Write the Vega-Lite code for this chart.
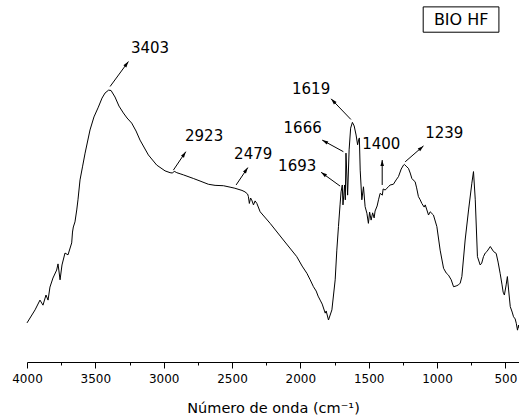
{
  "$schema": "https://vega.github.io/schema/vega-lite/v6.json",
  "width": 492,
  "height": 362,
  "autosize": {"type": "none"},
  "padding": {"left": 27, "top": 0, "right": 0, "bottom": 57},
  "background": "white",
  "config": {
    "view": {"stroke": null},
    "font": "DejaVu Sans",
    "text": {"font": "DejaVu Sans"}
  },
  "datasets": {
    "espectro": [
      {"wn": 4000, "v": 10.8}, {"wn": 3941, "v": 14.4}, {"wn": 3905, "v": 17.1},
      {"wn": 3883, "v": 15.7}, {"wn": 3861, "v": 18.5}, {"wn": 3846, "v": 17.1},
      {"wn": 3832, "v": 20.7}, {"wn": 3810, "v": 23.2}, {"wn": 3783, "v": 25.4},
      {"wn": 3773, "v": 27.1}, {"wn": 3758, "v": 22.7}, {"wn": 3744, "v": 26.8},
      {"wn": 3722, "v": 30.1}, {"wn": 3700, "v": 29.6}, {"wn": 3673, "v": 32.9},
      {"wn": 3667, "v": 35.9}, {"wn": 3661, "v": 37.3}, {"wn": 3649, "v": 38.7},
      {"wn": 3636, "v": 42.0}, {"wn": 3627, "v": 44.8}, {"wn": 3612, "v": 50.3},
      {"wn": 3594, "v": 53.9}, {"wn": 3575, "v": 57.7}, {"wn": 3539, "v": 64.1},
      {"wn": 3510, "v": 67.7}, {"wn": 3478, "v": 70.4}, {"wn": 3451, "v": 72.9},
      {"wn": 3429, "v": 74.3}, {"wn": 3403, "v": 75.1}, {"wn": 3385, "v": 75.0},
      {"wn": 3356, "v": 73.2}, {"wn": 3327, "v": 70.7}, {"wn": 3295, "v": 68.8},
      {"wn": 3268, "v": 67.4}, {"wn": 3234, "v": 66.0}, {"wn": 3202, "v": 63.8},
      {"wn": 3173, "v": 61.3}, {"wn": 3112, "v": 57.2}, {"wn": 3051, "v": 54.4},
      {"wn": 2990, "v": 52.8}, {"wn": 2953, "v": 52.3}, {"wn": 2935, "v": 52.2},
      {"wn": 2923, "v": 52.7}, {"wn": 2904, "v": 52.3}, {"wn": 2880, "v": 52.0},
      {"wn": 2856, "v": 51.7}, {"wn": 2783, "v": 50.7}, {"wn": 2734, "v": 50.0},
      {"wn": 2673, "v": 49.1}, {"wn": 2624, "v": 48.8}, {"wn": 2563, "v": 48.7},
      {"wn": 2514, "v": 48.3}, {"wn": 2479, "v": 48.0}, {"wn": 2427, "v": 47.4},
      {"wn": 2405, "v": 47.0}, {"wn": 2386, "v": 46.4}, {"wn": 2380, "v": 45.7},
      {"wn": 2373, "v": 43.8}, {"wn": 2364, "v": 45.3}, {"wn": 2356, "v": 44.8},
      {"wn": 2343, "v": 43.4}, {"wn": 2331, "v": 44.5}, {"wn": 2318, "v": 43.8},
      {"wn": 2294, "v": 41.5}, {"wn": 2221, "v": 38.3}, {"wn": 2124, "v": 33.7},
      {"wn": 2026, "v": 29.1}, {"wn": 1987, "v": 26.5}, {"wn": 1952, "v": 24.5},
      {"wn": 1928, "v": 22.7}, {"wn": 1904, "v": 20.8}, {"wn": 1884, "v": 19.6},
      {"wn": 1870, "v": 18.2}, {"wn": 1855, "v": 17.1}, {"wn": 1840, "v": 16.0},
      {"wn": 1818, "v": 13.5}, {"wn": 1811, "v": 14.1}, {"wn": 1794, "v": 11.6},
      {"wn": 1769, "v": 14.4}, {"wn": 1745, "v": 22.7}, {"wn": 1733, "v": 30.9},
      {"wn": 1721, "v": 37.4}, {"wn": 1709, "v": 43.6}, {"wn": 1702, "v": 47.0},
      {"wn": 1693, "v": 48.9}, {"wn": 1688, "v": 43.4}, {"wn": 1682, "v": 46.1},
      {"wn": 1676, "v": 48.9}, {"wn": 1671, "v": 44.8}, {"wn": 1666, "v": 57.7},
      {"wn": 1654, "v": 46.1}, {"wn": 1643, "v": 58.6}, {"wn": 1632, "v": 64.6},
      {"wn": 1619, "v": 66.2}, {"wn": 1606, "v": 65.2}, {"wn": 1592, "v": 62.7},
      {"wn": 1581, "v": 60.0}, {"wn": 1574, "v": 61.3}, {"wn": 1568, "v": 61.9},
      {"wn": 1562, "v": 53.0}, {"wn": 1550, "v": 44.8}, {"wn": 1538, "v": 48.4},
      {"wn": 1526, "v": 42.9}, {"wn": 1513, "v": 41.1}, {"wn": 1502, "v": 38.3},
      {"wn": 1493, "v": 41.4}, {"wn": 1482, "v": 39.2}, {"wn": 1471, "v": 41.2},
      {"wn": 1460, "v": 39.8}, {"wn": 1453, "v": 41.7}, {"wn": 1438, "v": 43.1},
      {"wn": 1428, "v": 44.8}, {"wn": 1416, "v": 46.6}, {"wn": 1400, "v": 46.1},
      {"wn": 1394, "v": 47.8}, {"wn": 1379, "v": 47.5}, {"wn": 1367, "v": 48.0},
      {"wn": 1355, "v": 48.4}, {"wn": 1343, "v": 48.9}, {"wn": 1319, "v": 49.1},
      {"wn": 1299, "v": 50.3}, {"wn": 1282, "v": 51.2}, {"wn": 1262, "v": 53.3},
      {"wn": 1245, "v": 54.4}, {"wn": 1239, "v": 54.6}, {"wn": 1226, "v": 54.1},
      {"wn": 1209, "v": 53.5}, {"wn": 1196, "v": 52.2}, {"wn": 1184, "v": 50.7},
      {"wn": 1175, "v": 50.3}, {"wn": 1160, "v": 49.8}, {"wn": 1149, "v": 48.1},
      {"wn": 1136, "v": 45.7}, {"wn": 1123, "v": 44.8}, {"wn": 1111, "v": 43.8},
      {"wn": 1094, "v": 42.8}, {"wn": 1086, "v": 43.4}, {"wn": 1074, "v": 42.0},
      {"wn": 1062, "v": 40.6}, {"wn": 1050, "v": 41.5}, {"wn": 1026, "v": 40.6},
      {"wn": 1001, "v": 37.4}, {"wn": 977, "v": 30.9}, {"wn": 952, "v": 25.9},
      {"wn": 933, "v": 24.6}, {"wn": 916, "v": 24.0}, {"wn": 896, "v": 22.7},
      {"wn": 879, "v": 20.8}, {"wn": 860, "v": 21.0}, {"wn": 843, "v": 21.3},
      {"wn": 830, "v": 21.8}, {"wn": 818, "v": 23.6}, {"wn": 794, "v": 33.7},
      {"wn": 769, "v": 42.0}, {"wn": 745, "v": 49.4}, {"wn": 733, "v": 52.6},
      {"wn": 720, "v": 44.8}, {"wn": 704, "v": 29.1}, {"wn": 684, "v": 26.8},
      {"wn": 673, "v": 27.3}, {"wn": 660, "v": 29.1}, {"wn": 647, "v": 30.1},
      {"wn": 635, "v": 30.5}, {"wn": 610, "v": 31.9}, {"wn": 586, "v": 30.5},
      {"wn": 567, "v": 30.0}, {"wn": 553, "v": 27.6}, {"wn": 538, "v": 24.5},
      {"wn": 524, "v": 21.3}, {"wn": 516, "v": 19.3}, {"wn": 507, "v": 18.5},
      {"wn": 494, "v": 21.3}, {"wn": 485, "v": 23.6}, {"wn": 476, "v": 19.9},
      {"wn": 464, "v": 15.3}, {"wn": 450, "v": 13.8}, {"wn": 440, "v": 12.5},
      {"wn": 428, "v": 11.9}, {"wn": 420, "v": 10.7}, {"wn": 411, "v": 8.8},
      {"wn": 403, "v": 10.2}, {"wn": 400, "v": 9.4}
    ],
    "bandas": [
      {"rotulo": "3403", "lx": 3100, "ly": 86.7, "wn0": 3392, "v0": 76.1, "wn1": 3258, "v1": 83.0},
      {"rotulo": "2923", "lx": 2704, "ly": 62.4, "wn0": 2929, "v0": 53.0, "wn1": 2838, "v1": 58.1},
      {"rotulo": "2479", "lx": 2345, "ly": 57.5, "wn0": 2470, "v0": 48.9, "wn1": 2384, "v1": 53.7},
      {"rotulo": "1693", "lx": 2023, "ly": 54.1, "wn0": 1709, "v0": 48.6, "wn1": 1848, "v1": 52.4},
      {"rotulo": "1666", "lx": 1983, "ly": 64.6, "wn0": 1685, "v0": 58.1, "wn1": 1840, "v1": 61.3},
      {"rotulo": "1619", "lx": 1921, "ly": 75.4, "wn0": 1630, "v0": 67.0, "wn1": 1775, "v1": 72.7},
      {"rotulo": "1400", "lx": 1408, "ly": 60.2, "wn0": 1401, "v0": 48.9, "wn1": 1401, "v1": 55.8},
      {"rotulo": "1239", "lx": 947, "ly": 63.3, "wn0": 1233, "v0": 55.3, "wn1": 1099, "v1": 59.7}
    ],
    "amostra": [
      {"nome": "BIO HF", "x0": 1101, "x1": 547, "y0": 91.1, "y1": 98.1, "xc": 823, "yc": 94.6}
    ]
  },
  "resolve": {"axis": {"x": "independent"}},
  "layer": [
    {
      "data": {"name": "espectro"},
      "mark": {"type": "line", "color": "black", "strokeWidth": 1, "interpolate": "linear"},
      "encoding": {
        "x": {
          "field": "wn", "type": "quantitative",
          "scale": {"domain": [4000, 400], "nice": false, "zero": false},
          "axis": {
            "orient": "bottom",
            "values": [4000, 3500, 3000, 2500, 2000, 1500, 1000, 500],
            "format": "d",
            "grid": false,
            "domainColor": "black", "domainWidth": 1,
            "tickColor": "black", "tickSize": 6, "tickWidth": 1,
            "labelFont": "DejaVu Sans", "labelFontSize": 12, "labelColor": "black",
            "labelPadding": 5, "labelFlush": false, "labelOverlap": false,
            "title": "Número de onda (cm⁻¹)",
            "titleFont": "DejaVu Sans", "titleFontSize": 14.5, "titleFontWeight": "normal",
            "titleColor": "black", "titlePadding": 17
          }
        },
        "y": {
          "field": "v", "type": "quantitative",
          "scale": {"domain": [0, 100], "nice": false, "zero": false},
          "axis": null
        }
      }
    },
    {
      "data": {"name": "bandas"},
      "mark": {"type": "rule", "color": "black", "strokeWidth": 1},
      "encoding": {
        "x": {
          "field": "wn0", "type": "quantitative",
          "axis": {
            "orient": "bottom",
            "values": [3750, 3250, 2750, 2250, 1750, 1250, 750],
            "labels": false, "domain": false, "grid": false,
            "tickColor": "black", "tickSize": 3, "tickWidth": 1,
            "title": null
          }
        },
        "x2": {"field": "wn1"},
        "y": {"field": "v0", "type": "quantitative"},
        "y2": {"field": "v1"}
      }
    },
    {
      "data": {"name": "bandas"},
      "transform": [
        {"calculate": "-(datum.wn1 - datum.wn0) * 0.1366", "as": "dx"},
        {"calculate": "(datum.v1 - datum.v0) * 3.62", "as": "up"},
        {"calculate": "atan2(datum.dx, datum.up) * 180 / PI", "as": "ang"}
      ],
      "mark": {
        "type": "point", "filled": true, "fill": "black", "fillOpacity": 1,
        "shape": "M0,0L0.45,1.5L-0.45,1.5Z", "size": 64, "strokeWidth": 0
      },
      "encoding": {
        "x": {"field": "wn1", "type": "quantitative", "axis": null},
        "y": {"field": "v1", "type": "quantitative"},
        "angle": {"field": "ang", "type": "quantitative", "scale": null}
      }
    },
    {
      "data": {"name": "bandas"},
      "mark": {"type": "text", "font": "DejaVu Sans", "fontSize": 15, "color": "black", "align": "center", "baseline": "middle"},
      "encoding": {
        "x": {"field": "lx", "type": "quantitative", "axis": null},
        "y": {"field": "ly", "type": "quantitative"},
        "text": {"field": "rotulo"}
      }
    },
    {
      "data": {"name": "amostra"},
      "mark": {"type": "rect", "fill": "white", "stroke": "black", "strokeWidth": 1},
      "encoding": {
        "x": {"field": "x0", "type": "quantitative", "axis": null},
        "x2": {"field": "x1"},
        "y": {"field": "y0", "type": "quantitative"},
        "y2": {"field": "y1"}
      }
    },
    {
      "data": {"name": "amostra"},
      "mark": {"type": "text", "font": "DejaVu Sans", "fontSize": 16, "color": "black", "align": "center", "baseline": "middle"},
      "encoding": {
        "x": {"field": "xc", "type": "quantitative", "axis": null},
        "y": {"field": "yc", "type": "quantitative"},
        "text": {"field": "nome"}
      }
    }
  ]
}
